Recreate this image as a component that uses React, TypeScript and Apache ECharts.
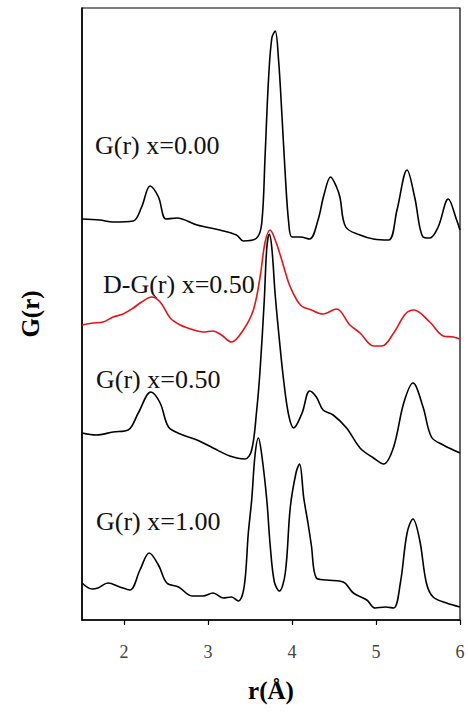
import React, { useEffect, useRef } from "react";
import * as echarts from "echarts";

// r (Å) positions and curve values (vertically offset G(r) curves, arbitrary units)
const curveX000: [number, number][] = [
  [1.5, 401], [1.71, 400], [1.87, 398], [2.11, 399], [2.21, 413], [2.31, 434], [2.41, 423],
  [2.5, 401], [2.63, 402], [2.87, 395], [3.14, 390], [3.34, 385], [3.42, 379], [3.58, 382],
  [3.64, 397], [3.68, 465], [3.72, 540], [3.76, 582], [3.8, 589], [3.84, 560], [3.88, 505],
  [3.92, 445], [3.96, 398], [4.0, 383], [4.1, 383], [4.21, 381], [4.31, 400], [4.38, 425],
  [4.46, 443], [4.53, 433], [4.57, 423], [4.64, 393], [4.81, 385], [4.97, 381], [5.15, 380],
  [5.25, 410], [5.37, 450], [5.46, 423], [5.56, 383], [5.64, 382], [5.74, 393], [5.86, 421],
  [5.96, 400], [6.0, 390],
];

const curveDX050: [number, number][] = [
  [1.5, 295], [1.63, 297], [1.75, 298], [1.87, 303], [1.99, 306], [2.11, 312], [2.21, 318],
  [2.33, 323], [2.43, 318], [2.55, 302], [2.67, 295], [2.83, 290], [2.94, 288], [3.06, 289],
  [3.16, 285], [3.28, 278], [3.42, 290], [3.54, 310], [3.62, 343], [3.68, 378], [3.74, 390],
  [3.8, 380], [3.86, 365], [3.92, 348], [3.98, 333], [4.1, 315], [4.23, 310], [4.37, 306],
  [4.53, 311], [4.69, 295], [4.81, 287], [4.97, 274], [5.07, 274], [5.21, 287], [5.35, 306],
  [5.45, 310], [5.64, 298], [5.8, 284], [5.92, 283], [6.0, 281],
];

const curveX050: [number, number][] = [
  [1.5, 187], [1.67, 185], [1.87, 188], [2.05, 190], [2.17, 207], [2.32, 228], [2.43, 217],
  [2.53, 193], [2.67, 186], [2.87, 180], [3.06, 172], [3.26, 164], [3.44, 161], [3.52, 170],
  [3.58, 210], [3.62, 250], [3.67, 320], [3.7, 372], [3.73, 386], [3.76, 372], [3.8, 325],
  [3.85, 280], [3.9, 240], [3.96, 205], [4.02, 192], [4.12, 207], [4.21, 229], [4.29, 223],
  [4.37, 210], [4.49, 205], [4.65, 192], [4.81, 172], [4.97, 162], [5.09, 156], [5.21, 173],
  [5.33, 217], [5.44, 237], [5.56, 213], [5.66, 183], [5.8, 175], [6.0, 167],
];

const curveX100: [number, number][] = [
  [1.5, 37], [1.62, 31], [1.69, 32], [1.81, 37], [1.95, 33], [2.07, 30], [2.19, 50],
  [2.3, 67], [2.41, 55], [2.51, 37], [2.65, 33], [2.81, 24], [2.94, 24], [3.06, 27],
  [3.18, 22], [3.28, 23], [3.36, 19], [3.43, 33], [3.48, 87], [3.52, 120], [3.56, 165],
  [3.6, 182], [3.64, 165], [3.7, 120], [3.74, 75], [3.79, 38], [3.85, 29], [3.92, 47],
  [3.98, 113], [4.05, 148], [4.09, 156], [4.14, 122], [4.19, 97], [4.23, 75], [4.29, 42],
  [4.41, 40], [4.61, 38], [4.73, 27], [4.89, 20], [4.99, 12], [5.11, 13], [5.21, 12],
  [5.29, 37], [5.37, 87], [5.44, 101], [5.52, 80], [5.6, 37], [5.68, 23], [5.84, 17],
  [6.0, 13],
];

const xTicks = [2, 3, 4, 5, 6];
const curveLabels = ["G(r) x=0.00", "D-G(r) x=0.50", "G(r) x=0.50", "G(r) x=1.00"];

const SERIF = "'Liberation Serif', 'Times New Roman', serif";

export default function App() {
  const ref = useRef<HTMLDivElement>(null);

  useEffect(() => {
    if (!ref.current) return;
    const chart = echarts.init(ref.current, undefined, { renderer: "svg" });
    const lineSeries = (data: [number, number][], color: string) => ({
      type: "line",
      data,
      showSymbol: false,
      smooth: 0.35,
      lineStyle: { color, width: 1.6 },
      itemStyle: { color },
      z: color === "#000" ? 3 : 2,
    });
    const labelText = (text: string, left: number, y: number) => ({
      type: "text",
      left,
      top: y,
      style: {
        text,
        font: `26px ${SERIF}`,
        fill: "#111",
      },
    });
    chart.setOption({
      animation: false,
      backgroundColor: "#fff",
      grid: {
        left: 82,
        right: 8,
        top: 8,
        bottom: 96,
        show: true,
        borderColor: "#000",
        borderWidth: 1.2,
      },
      xAxis: {
        type: "value",
        min: 1.5,
        max: 6,
        name: "r(Å)",
        nameLocation: "middle",
        nameGap: 58,
        nameTextStyle: { fontFamily: SERIF, fontSize: 25, fontWeight: "bold", color: "#000" },
        axisLine: { show: true, lineStyle: { color: "#000", width: 1.5 } },
        axisTick: {
          show: true,
          inside: false,
          length: 5,
          customValues: xTicks,
          lineStyle: { color: "#000", width: 1.2 },
        },
        axisLabel: {
          customValues: xTicks,
          margin: 23,
          fontFamily: SERIF,
          fontSize: 18,
          color: "#444",
        },
        splitLine: { show: false },
      },
      yAxis: {
        type: "value",
        min: 0,
        max: 612,
        name: "G(r)",
        nameLocation: "middle",
        nameGap: 39,
        nameTextStyle: { fontFamily: SERIF, fontSize: 25, fontWeight: "bold", color: "#000" },
        axisLine: { show: true, lineStyle: { color: "#000", width: 1.5 } },
        axisTick: { show: false },
        axisLabel: { show: false },
        splitLine: { show: false },
      },
      graphic: [
        labelText(curveLabels[0], 95, 132),
        labelText(curveLabels[1], 103, 271),
        labelText(curveLabels[2], 96, 366),
        labelText(curveLabels[3], 96, 508),
      ],
      series: [
        lineSeries(curveX000, "#000"),
        lineSeries(curveDX050, "#e3141c"),
        lineSeries(curveX050, "#000"),
        lineSeries(curveX100, "#000"),
      ],
    });
    return () => chart.dispose();
  }, []);

  return (
    <div
      ref={ref}
      style={{ position: "fixed", left: 0, top: 0, width: 468, height: 716, background: "#fff" }}
    />
  );
}
